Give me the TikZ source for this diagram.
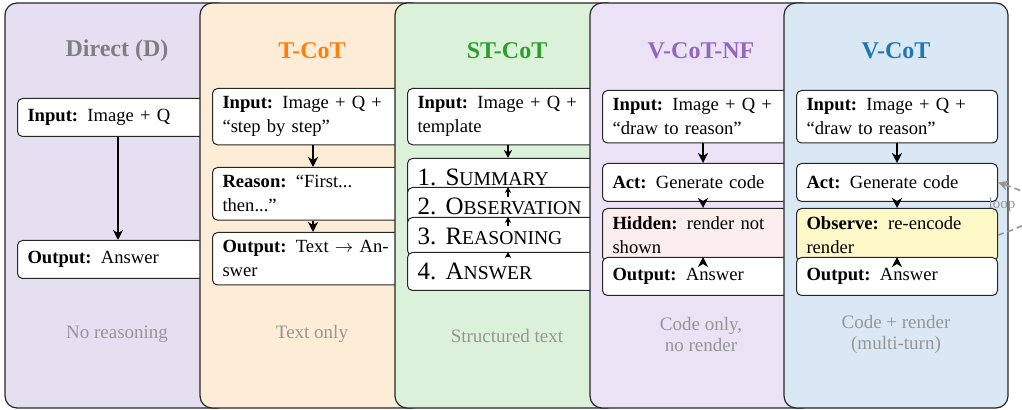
\documentclass[tikz,border=0pt]{standalone}
\usepackage{fontspec}
\setmainfont{Liberation Serif}
\usetikzlibrary{arrows.meta,calc}
\definecolor{pa}{RGB}{230,223,242}
\definecolor{pb}{RGB}{253,236,214}
\definecolor{pc}{RGB}{220,241,218}
\definecolor{pd}{RGB}{235,226,246}
\definecolor{pe}{RGB}{218,232,246}
\definecolor{hidfill}{RGB}{253,238,238}
\definecolor{obsfill}{RGB}{255,249,200}
\definecolor{ta}{RGB}{127,127,127}
\definecolor{tb}{RGB}{255,127,14}
\definecolor{tc}{RGB}{44,160,44}
\definecolor{td}{RGB}{148,103,189}
\definecolor{te}{RGB}{31,119,180}
\definecolor{capgray}{RGB}{150,150,150}
\newcommand\scitem[3]{{\fontsize{12.5}{14}\selectfont #1 #2{\fontsize{9.8}{12}\selectfont #3}}}
\tikzset{
  panel/.style={draw=black!85, line width=0.6pt, rounded corners=6pt},
  ttl/.style={font=\bfseries\fontsize{12}{14}\selectfont},
  box/.style={draw=black!85, line width=0.5pt, rounded corners=2.5pt, fill=white,
    text width=90.5pt, align=left, inner xsep=5pt, inner ysep=4pt, minimum height=19pt,
    font=\fontsize{9.3}{12}\selectfont, anchor=north west},
  scbox/.style={box, inner ysep=2pt},
  captxt/.style={text=capgray, font=\fontsize{9.5}{10.5}\selectfont, align=center},
  arr/.style={-{Stealth[length=5pt,width=5pt,inset=1.5pt]}, line width=0.8pt},
  sarr/.style={-{Stealth[length=3pt,width=3.2pt,inset=1pt]}, line width=0.6pt},
  loopst/.style={-{Stealth[length=5pt,width=5pt,inset=1.5pt]}, draw=capgray, line width=0.8pt, dash pattern=on 3pt off 2pt}
}
\begin{document}
\begin{tikzpicture}[x=0.5pt,y=-0.5pt]
\useasboundingbox (0,0) rectangle (1022,410);
% Panel 1: Direct
\draw[panel, fill=pa] (5,3) rectangle (229,408);
\node[ttl, text=ta] (t1) at (117,51) {Direct (D)};
\node[box] (i1) at (17,98) {\textbf{Input:} Image + Q};
\node[box] (o1) at (17,240) {\textbf{Output:} Answer};
\draw[arr] (i1.south) -- (o1.north);
\node[captxt] (c1) at (117,334) {No reasoning};
% Panel 2: T-CoT
\draw[panel, fill=pb] (200,3) rectangle (424,408);
\node[ttl, text=tb] (t2) at (312,51) {T-CoT};
\node[box] (i2) at (212,88) {\textbf{Input:} Image + Q + “step by step”};
\node[box] (r2) at (212,167) {\textbf{Reason:} “First... then...”};
\node[box] (o2) at (212,232) {\textbf{Output:} Text $\rightarrow$ Answer};
\draw[arr] (i2.south) -- (r2.north);
\draw[arr] (r2.south) -- (o2.north);
\node[captxt] (c2) at (312,334) {Text only};
% Panel 3: ST-CoT
\draw[panel, fill=pc] (395,3) rectangle (619,408);
\node[ttl, text=tc] (t3) at (507,51) {ST-CoT};
\node[box] (i3) at (407,88) {\textbf{Input:} Image + Q + template};
\node[scbox] (sa) at (407,158) {\scitem{1.}{S}{UMMARY}};
\node[scbox] (sb) at (407,187) {\scitem{2.}{O}{BSERVATION}};
\node[scbox] (sc) at (407,217) {\scitem{3.}{R}{EASONING}};
\node[scbox] (sd) at (407,252) {\scitem{4.}{A}{NSWER}};
\draw[arr, -{Stealth[length=4pt,width=4pt,inset=1.2pt]}] (i3.south) -- (sa.north);
\draw[sarr] (sa.south) -- (sb.north);
\draw[sarr] (sb.south) -- (sc.north);
\draw[sarr] (sc.south) -- (sd.north);
\node[captxt] (c3) at (507,336) {Structured text};
% Panel 4: V-CoT-NF
\draw[panel, fill=pd] (590,3) rectangle (814,408);
\node[ttl, text=td] (t4) at (701,51) {V-CoT-NF};
\node[box] (i4) at (602,90) {\textbf{Input:} Image + Q + “draw to reason”};
\node[box] (a4) at (602,163) {\textbf{Act:} Generate code};
\node[box, fill=hidfill] (h4) at (602,208) {\textbf{Hidden:} render not shown};
\node[box] (o4) at (602,257) {\textbf{Output:} Answer};
\draw[arr] (i4.south) -- (a4.north);
\draw[arr] (a4.south) -- (h4.north);
\draw[arr] (h4.south) -- (o4.north);
\node[captxt] (c4) at (701,335) {Code only,\\no render};
% Panel 5: V-CoT
\draw[panel, fill=pe] (784,3) rectangle (1008,408);
\node[ttl, text=te] (t5) at (896,51) {V-CoT};
\node[box] (i5) at (796,90) {\textbf{Input:} Image + Q + “draw to reason”};
\node[box] (a5) at (796,163) {\textbf{Act:} Generate code};
\node[box, fill=obsfill] (ob5) at (796,208) {\textbf{Observe:} re-encode render};
\node[box] (o5) at (796,257) {\textbf{Output:} Answer};
\draw[arr] (i5.south) -- (a5.north);
\draw[arr] (a5.south) -- (ob5.north);
\draw[arr] (ob5.south) -- (o5.north);
\node[captxt] (c5) at (896,334) {Code + render\\(multi-turn)};
% loop
\draw[loopst] (ob5.east) .. controls ($(ob5.east)+(55,-18)$) and ($(a5.east)+(55,18)$) .. (a5.east);
\node[text=capgray, font=\fontsize{7.5}{9}\selectfont, inner sep=0pt] (lp) at (1002,205) {loop};
\end{tikzpicture}
\end{document}
